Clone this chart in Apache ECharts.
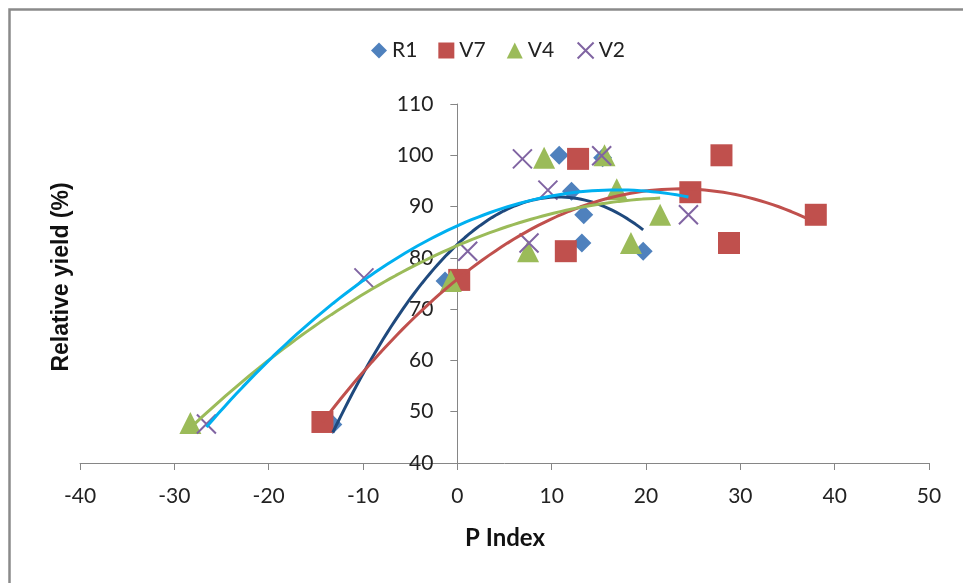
<!DOCTYPE html>
<html><head><meta charset="utf-8">
<script src="https://cdn.jsdelivr.net/npm/echarts@6/dist/echarts.min.js"></script>
<style>html,body{margin:0;padding:0;background:#fff}#c{width:963px;height:583px}</style>
</head><body><div id="c"></div>
<script>
var seriesNames = ['R1','V7','V4','V2'];
var r1X = [-13.2, -1.3, 10.8, 12.1, 13.4, 13.2, 15.4, 19.7];
var r1Y = [47.5, 75.5, 100, 93.0, 88.4, 82.9, 99.5, 81.3];
var v7X = [-14.3, 0.2, 11.5, 12.8, 24.7, 28.0, 28.8, 38.0];
var v7Y = [48.0, 75.7, 81.3, 99.3, 92.8, 100, 82.9, 88.4];
var v4X = [-28.3, -0.7, 7.5, 9.2, 15.6, 16.9, 18.4, 21.5];
var v4Y = [47.8, 75.5, 81.3, 99.5, 100, 93.4, 82.9, 88.4];
var v2X = [-26.6, -9.9, 1.1, 7.6, 6.9, 9.6, 15.3, 24.5];
var v2Y = [47.6, 76.1, 81.3, 82.9, 99.3, 93.2, 99.9, 88.4];
var xTicks = [-40,-30,-20,-10,0,10,20,30,40,50];
var yTicks = [40,50,60,70,80,90,100,110];

var markerColors = ['#4F81BD','#C0504D','#9BBB59','#8064A2'];
var trendColors = ['#1F497D','#C0504D','#9BBB59','#00B0F0'];

function pairs(xs, ys){ return xs.map(function(x,i){return [x, ys[i]];}); }
// quadratic least-squares trendline (as in the spreadsheet's polynomial trendline)
function quadFit(xs, ys){
  var n=xs.length,S=[0,0,0,0,0],T=[0,0,0];
  for(var i=0;i<n;i++){var p=1;for(var k=0;k<5;k++){S[k]+=p;if(k<3)T[k]+=p*ys[i];p*=xs[i];}}
  var A=[[S[0],S[1],S[2],T[0]],[S[1],S[2],S[3],T[1]],[S[2],S[3],S[4],T[2]]];
  for(var c=0;c<3;c++){var m=c;for(var r=c+1;r<3;r++)if(Math.abs(A[r][c])>Math.abs(A[m][c]))m=r;var t=A[c];A[c]=A[m];A[m]=t;
    for(var r=0;r<3;r++){if(r===c)continue;var f=A[r][c]/A[c][c];for(var k=c;k<4;k++)A[r][k]-=f*A[c][k];}}
  var a=A[0][3]/A[0][0],b=A[1][3]/A[1][1],cc=A[2][3]/A[2][2];
  var lo=Math.min.apply(null,xs),hi=Math.max.apply(null,xs),out=[];
  for(var j=0;j<=80;j++){var x=lo+(hi-lo)*j/80;out.push([x,a+b*x+cc*x*x]);}
  return out;
}
var allX=[r1X,v7X,v4X,v2X], allY=[r1Y,v7Y,v4Y,v2Y];
var symbols=['diamond','rect','triangle','path://M0,0L10,10M10,0L0,10'];
var sizes=[19,22,22,19];
var series=[];
for(var s=0;s<4;s++){
  var it={color:markerColors[s],opacity:1};
  if(s===3) it={color:'none',borderColor:markerColors[s],borderWidth:2,opacity:1};
  series.push({name:seriesNames[s],type:'scatter',data:pairs(allX[s],allY[s]),symbol:symbols[s],symbolSize:sizes[s],itemStyle:it,z:2});
}
for(var s=0;s<4;s++){
  series.push({name:seriesNames[s]+' trend',type:'line',data:quadFit(allX[s],allY[s]),showSymbol:false,symbol:'none',smooth:false,
    lineStyle:{color:trendColors[s],width:3},z:3,silent:true});
}
var font='Lato, "Liberation Sans", sans-serif';
var gridLeft=80, gridRight=34, W=963;
var plotW=W-gridLeft-gridRight;
var yAxisOffset=-plotW*(0-(-40))/(50-(-40));
var chart=echarts.init(document.getElementById('c'),null,{renderer:'canvas'});
chart.setOption({
  animation:false,
  backgroundColor:'#fff',
  legend:{data:seriesNames.map(function(n,i){return {name:n,icon:symbols[i]};}),top:35,left:366,itemGap:21,itemWidth:16,itemHeight:16,
    textStyle:{fontFamily:font,fontSize:21,color:'#222'}},
  grid:{left:gridLeft,right:gridRight,top:104,bottom:120},
  xAxis:{type:'value',min:-40,max:50,interval:10,
    axisLine:{onZero:false,lineStyle:{color:'#868686',width:1}},
    axisTick:{show:true,length:7,lineStyle:{color:'#868686'}},
    axisLabel:{margin:23,fontFamily:font,fontSize:21,color:'#222',customValues:xTicks},
    splitLine:{show:false}},
  yAxis:{type:'value',min:40,max:110,interval:10,offset:yAxisOffset,
    axisLine:{show:true,onZero:false,lineStyle:{color:'#868686',width:1}},
    axisTick:{show:true,length:7,lineStyle:{color:'#868686'}},
    axisLabel:{margin:24,fontFamily:font,fontSize:21,color:'#222',customValues:yTicks},
    splitLine:{show:false}},
  graphic:[
    {type:'rect',shape:{x:9.5,y:9.5,width:980,height:600},style:{fill:'none',stroke:'#8a8a8a',lineWidth:2.5},silent:true},
    {type:'text',x:505,y:538,style:{text:'P Index',fontFamily:font,fontWeight:'bold',fontSize:24,fill:'#111',textAlign:'center',textVerticalAlign:'middle'}},
    {type:'text',x:62,y:277,rotation:Math.PI/2,style:{text:'Relative yield (%)',fontFamily:'"Liberation Sans", Arial, sans-serif',fontWeight:'bold',fontSize:23,fill:'#111',textAlign:'center',textVerticalAlign:'middle'}}
  ],
  series:series
});
</script></body></html>
